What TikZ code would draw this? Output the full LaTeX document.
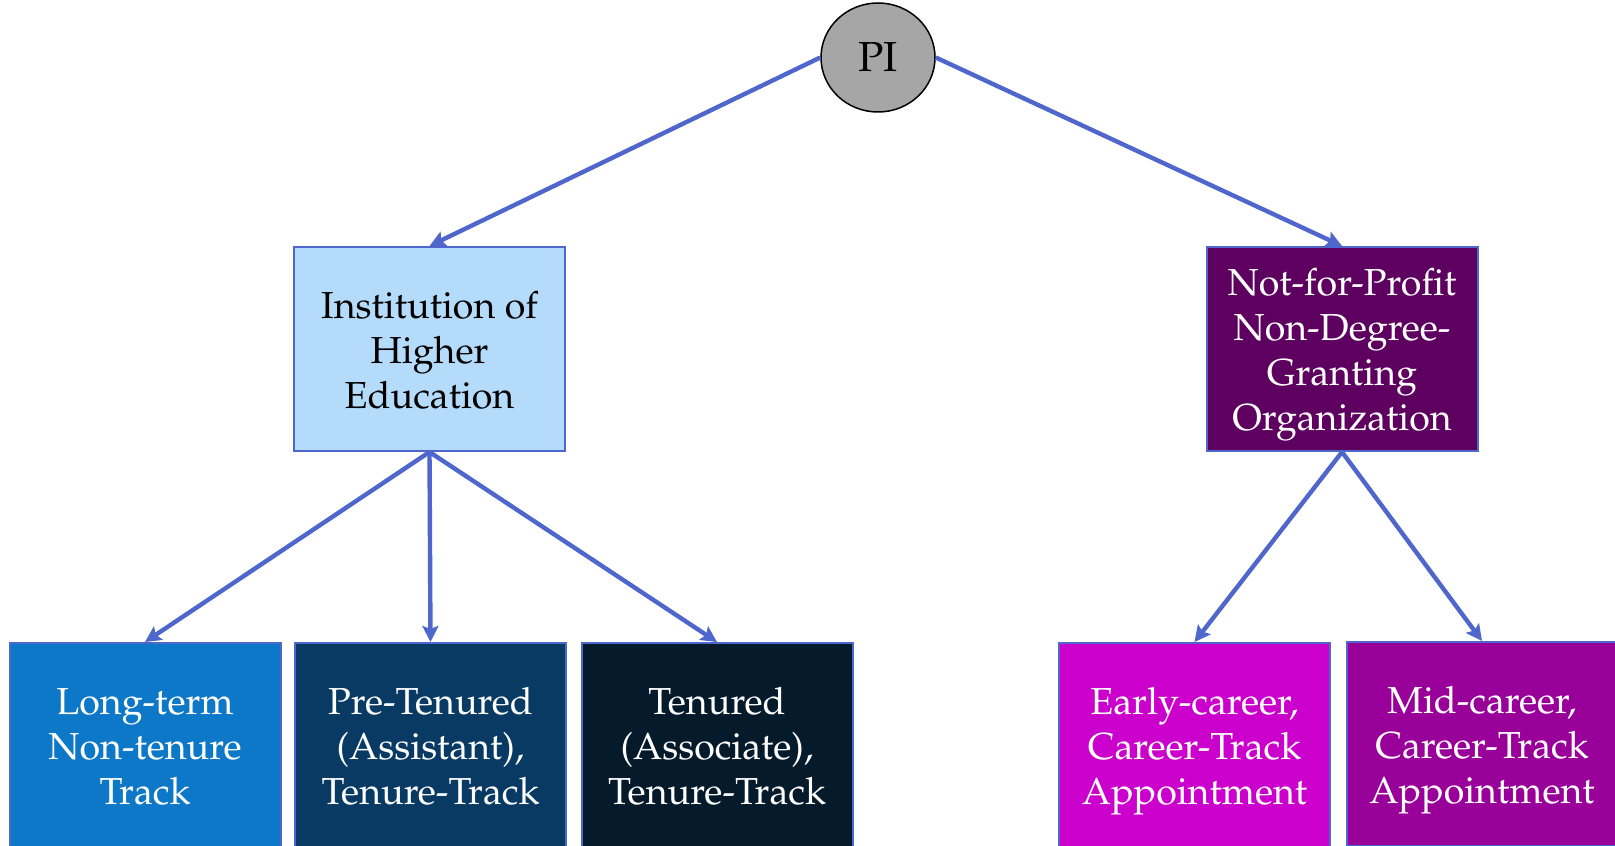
\documentclass[tikz,border=0pt]{standalone}
\usepackage[T1]{fontenc}
\usepackage{mathpazo}
\usetikzlibrary{shapes.geometric,arrows.meta}
\definecolor{linkblue}{RGB}{79,103,204}
\definecolor{pigray}{RGB}{166,166,166}
\definecolor{ihefill}{RGB}{180,219,250}
\definecolor{nfpfill}{RGB}{94,0,96}
\definecolor{ltntfill}{RGB}{14,120,200}
\definecolor{prefill}{RGB}{8,58,99}
\definecolor{tenfill}{RGB}{5,26,43}
\definecolor{earlyfill}{RGB}{204,0,204}
\definecolor{midfill}{RGB}{153,0,153}
% fixed height of the first line and depth of the last one
\newcommand{\vt}{\rule{0pt}{20pt}}
\newcommand{\vb}{\rule[-6pt]{0pt}{6pt}}
\tikzset{
  box/.style={draw=linkblue,line width=1pt,minimum width=135.5pt,minimum height=102pt,
    align=center,inner sep=2pt,font=\fontsize{18.8}{22.5}\selectfont},
  link/.style={draw=linkblue,line width=2.2pt,-{Stealth[length=8pt,width=8pt,inset=1.5pt]}}
}
\begin{document}
\begin{tikzpicture}[x=0.5pt,y=-0.5pt]
\useasboundingbox[fill=white] (0,0) rectangle (1615,845);
\node[ellipse,draw,fill=pigray,line width=0.75pt,minimum width=57pt,minimum height=54.5pt,
  font=\fontsize{21}{25}\selectfont] (pi) at (878,57.5) {PI};
\node[box,fill=ihefill] (ihe) at (429.5,349) {\vt Institution of\\Higher\\Education\vb};
\node[box,fill=nfpfill,text=white] (nfp) at (1342,349) {\vt Not-for-Profit\\Non-Degree-\\Granting\\Organization\vb};
\node[box,fill=ltntfill,text=white] (ltnt) at (145,745) {\vt Long-term\\Non-tenure\\Track\vb};
\node[box,fill=prefill,text=white] (pre) at (430.5,745) {\vt Pre-Tenured\\(Assistant),\\Tenure-Track\vb};
\node[box,fill=tenfill,text=white] (ten) at (717,745) {\vt Tenured\\(Associate),\\Tenure-Track\vb};
\node[box,fill=earlyfill,text=white] (early) at (1194.5,745) {\vt Early-career,\\Career-Track\\Appointment\vb};
\node[box,fill=midfill,text=white] (mid) at (1482,744) {\vt Mid-career,\\Career-Track\\Appointment\vb};
\draw[link] (pi.west) -- (ihe.north);
\draw[link] (pi.east) -- (nfp.north);
\foreach \k in {ltnt,pre,ten} \draw[link] (ihe.south) -- (\k.north);
\foreach \k in {early,mid} \draw[link] (nfp.south) -- (\k.north);
\end{tikzpicture}
\end{document}
